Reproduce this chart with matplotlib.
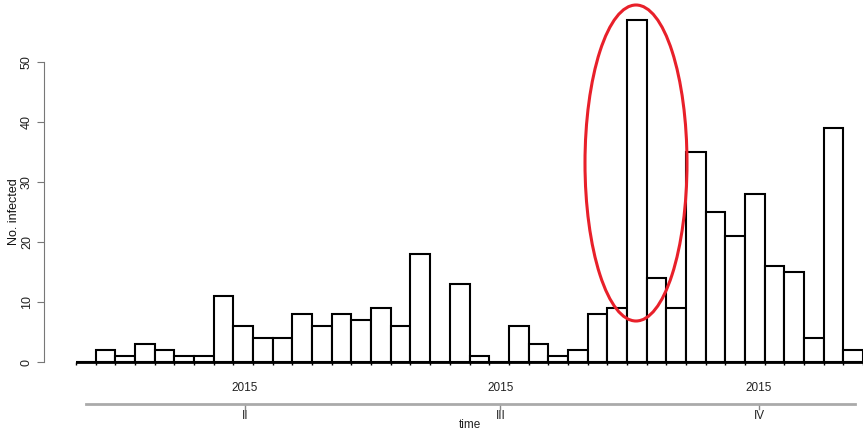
import datetime
import matplotlib.pyplot as plt
from matplotlib.patches import Ellipse

# weekly case counts, first week starting 2015-01-31
week_start = datetime.date(2015, 1, 31)
counts = [0, 2, 1, 3, 2, 1, 1, 11, 6, 4, 4, 8, 6, 8, 7, 9, 6, 18, 0, 13,
          1, 0, 6, 3, 1, 2, 8, 9, 57, 14, 9, 35, 25, 21, 28, 16, 15, 4, 39, 2]
quarter_starts = [datetime.date(2015, 4, 1), datetime.date(2015, 7, 1),
                  datetime.date(2015, 10, 1)]
quarter_labels = ['II', 'III', 'IV']
year_labels = ['2015', '2015', '2015']
y_ticks = [0, 10, 20, 30, 40, 50]

plt.rcParams['font.family'] = ['Liberation Sans', 'DejaVu Sans']

fig = plt.figure(figsize=(8.63, 4.30), dpi=100)
W, H = 863, 430
# axes spans x 44..863 px, y 0..430 px; 1 week = 19.675 px, 1 case = 6 px
ax = fig.add_axes([44 / W, 0, 1 - 44 / W, 1])
bw = 19.675
ax.set_xlim(-(76 - 44) / bw, (863 - 76) / bw)
ax.set_ylim((362 - 430) / 6, 362 / 6)

weeks = list(range(len(counts)))
ax.bar(weeks, counts, width=1.0, align='edge', color='white',
       edgecolor='black', linewidth=1.5, zorder=2)

# baseline with a small tick at every week boundary
ax.plot([0, len(counts)], [0, 0], color='black', lw=2, zorder=3,
        solid_capstyle='butt')
ax.vlines(range(len(counts) + 1), -0.5, 0, color='black', lw=1, zorder=3)

for s in ['top', 'right', 'bottom']:
    ax.spines[s].set_visible(False)
ax.spines['left'].set_bounds(0, 50)
ax.spines['left'].set_color('#777777')
ax.set_xticks([])
ax.set_yticks(y_ticks)
ax.set_yticklabels([str(t) for t in y_ticks], rotation=90, va='center',
                   fontsize=9, color='#222222')
ax.tick_params(axis='y', length=5, color='#777777', pad=3)
ax.text((14 - 44) / (W - 44), (430 - 212) / 430, 'No. infected',
        transform=ax.transAxes, rotation=90, ha='center', va='center',
        fontsize=9, color='#111111', clip_on=False)

# date axis below the plot: year row, quarter line, quarter labels
qpos = [(q - week_start).days / 7 for q in quarter_starts]
for x, yr, ql in zip(qpos, year_labels, quarter_labels):
    ax.text(x, (362 - 388) / 6, yr, ha='center', va='center', fontsize=8.5,
            color='#222222', clip_on=False)
    ax.plot([x, x], [(362 - 404) / 6, (362 - 409) / 6], color='#888888',
            lw=1, clip_on=False)
    ax.text(x, (362 - 416) / 6, ql, ha='center', va='center', fontsize=8.5,
            color='#222222', clip_on=False)
ax.plot([(86 - 76) / bw, (855 - 76) / bw], [(362 - 404) / 6] * 2,
        color='#aaaaaa', lw=2, clip_on=False)
ax.text((470 - 76) / bw, (362 - 425) / 6, 'time', ha='center', va='center',
        fontsize=8.5, color='#222222', clip_on=False)

# highlight around the peak week
peak = Ellipse(((636 - 76) / bw, (362 - 163) / 6), 102 / bw, 316 / 6,
               fill=False, edgecolor='#e8202a', lw=2.2, zorder=4,
               clip_on=False)
ax.add_patch(peak)

fig.savefig('out.png', dpi=100)
